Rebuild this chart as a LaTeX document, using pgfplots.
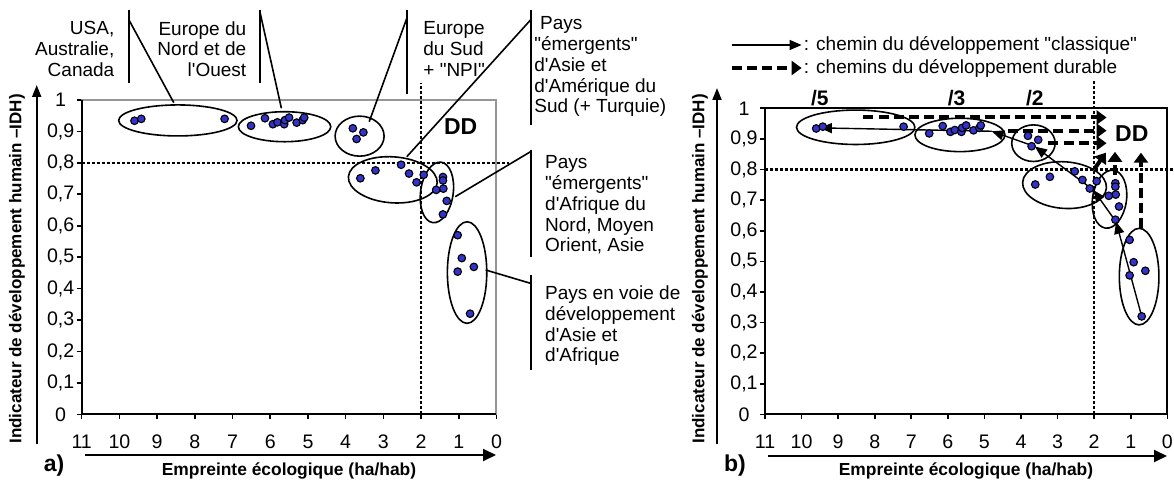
\documentclass[border=0pt]{standalone}
\usepackage{fontspec}
\setmainfont{Liberation Sans}[Ligatures=TeXOff]
\usepackage{pgfplots}
\usepackage{pgfplotstable}
\pgfplotsset{compat=1.18}
\usetikzlibrary{arrows.meta}
\definecolor{ptblue}{RGB}{51,51,204}
\definecolor{framegray}{RGB}{150,150,150}

\pgfplotstableread{
x y
9.60 0.934
9.42 0.940
7.21 0.940
6.51 0.918
6.14 0.942
5.93 0.923
5.81 0.929
5.63 0.923
5.61 0.936
5.50 0.944
5.30 0.928
5.14 0.936
5.10 0.944
3.81 0.910
3.53 0.897
3.71 0.876
3.61 0.751
3.21 0.776
2.53 0.794
2.32 0.766
2.12 0.738
1.93 0.762
1.42 0.755
1.42 0.744
1.41 0.718
1.60 0.714
1.32 0.679
1.42 0.636
1.03 0.570
0.92 0.497
0.60 0.469
1.03 0.454
0.70 0.320
}\pts

\pgfplotsset{
 panel/.style={scale only axis, xmin=0, xmax=11, ymin=0, ymax=1, x dir=reverse, clip=false,
   xtick={0,1,2,3,4,5,6,7,8,9,10,11},
   ytick={0,0.1,0.2,0.3,0.4,0.5,0.6,0.7,0.8,0.9,1},
   xtick pos=left, ytick pos=left,
   tick align=outside, major tick length=2.5pt,
   every tick/.style={black, line width=0.8pt},
   /pgf/number format/use comma,
   /pgf/number format/fixed,
   /pgf/number format/precision=1,
   /pgf/number format/assume math mode=true,
   ticklabel style={font=\fontsize{9.8}{11}\selectfont},
   xticklabel style={yshift=-4.2pt},
   yticklabel style={anchor=center, xshift=-8pt},
 },
 pts/.style={only marks, mark=*, mark size=1.9pt, mark options={fill=ptblue, draw=black, line width=0.55pt}},
 dotline/.style={no marks, black, line width=1.1pt, dash pattern=on 1.5pt off 1pt},
 solidarrow/.style={no marks, black, line width=0.7pt, -{Triangle[length=6pt,width=5pt]}},
 dasharrow/.style={no marks, black, line width=2pt, dash pattern=on 5pt off 2.6pt, -{Triangle[length=5pt,width=7pt]}},
}

\begin{document}
\begin{tikzpicture}
\path[use as bounding box] (0,0) rectangle (587pt,-240.5pt);

% ---------------- panel a ----------------
\begin{axis}[panel, at={(40.85pt,-207.15pt)}, anchor=south west,
  width=207.4pt, height=157.15pt,
  axis line style={draw=framegray, line width=1pt}]
\addplot[dotline] coordinates {(11,0.8) (-0.33,0.8)};
\addplot[dotline] coordinates {(2,0) (2,1.053)};
\draw[black, line width=1pt] (axis cs:11,1) -- (axis cs:11,0) -- (axis cs:0,0);
\draw[line width=0.8pt] (axis cs:8.45,0.935) ellipse [x radius=29.6pt, y radius=7.75pt];
\draw[line width=0.8pt] (axis cs:5.62,0.915) ellipse [x radius=23.1pt, y radius=7.5pt];
\draw[line width=0.8pt] (axis cs:3.63,0.885) ellipse [x radius=12.25pt, y radius=10pt];
\draw[line width=0.8pt, rotate around={-4:(axis cs:2.75,0.746)}] (axis cs:2.75,0.746) ellipse [x radius=22.25pt, y radius=11.5pt];
\draw[line width=0.8pt, rotate around={-8:(axis cs:1.58,0.706)}] (axis cs:1.58,0.706) ellipse [x radius=8.15pt, y radius=15.25pt];
\draw[line width=0.8pt] (axis cs:0.78,0.451) ellipse [x radius=9.85pt, y radius=25.4pt];
\addplot[pts] table {\pts};
\node[font=\bfseries\fontsize{11.5}{12}\selectfont] at (axis cs:0.95,0.915) {DD};
\end{axis}

% ---------------- panel b ----------------
\begin{axis}[panel, at={(382.5pt,-207.15pt)}, anchor=south west,
  width=201.15pt, height=153pt,
  axis line style={draw=black, line width=1pt}]
\addplot[dotline] coordinates {(11,0.8) (-0.17,0.8)};
\addplot[dotline] coordinates {(2,0) (2,1.09)};
\draw[line width=0.8pt] (axis cs:8.52,0.938) ellipse [x radius=29.6pt, y radius=8.6pt];
\draw[line width=0.8pt] (axis cs:5.67,0.913) ellipse [x radius=22.5pt, y radius=8.35pt];
\draw[line width=0.8pt] (axis cs:3.66,0.886) ellipse [x radius=10.85pt, y radius=9.15pt];
\draw[line width=0.8pt, rotate around={-4:(axis cs:2.81,0.749)}] (axis cs:2.81,0.749) ellipse [x radius=21pt, y radius=11.65pt];
\draw[line width=0.8pt, rotate around={-8:(axis cs:1.58,0.703)}] (axis cs:1.58,0.703) ellipse [x radius=8.5pt, y radius=14.6pt];
\draw[line width=0.8pt] (axis cs:0.77,0.45) ellipse [x radius=9.9pt, y radius=24.15pt];
\addplot[pts] table {\pts};
% classical path
\addplot[solidarrow] coordinates {(0.70,0.320) (1.40,0.629)};
\addplot[solidarrow] coordinates {(1.40,0.629) (2.02,0.733)};
\addplot[solidarrow] coordinates {(2.02,0.733) (3.62,0.875)};
\addplot[solidarrow] coordinates {(3.62,0.875) (4.80,0.925)};
\addplot[solidarrow] coordinates {(4.80,0.925) (9.50,0.936)};
% sustainable paths
\addplot[dasharrow] coordinates {(8.31,0.970) (1.66,0.970)};
\addplot[dasharrow] coordinates {(4.36,0.927) (1.66,0.927)};
\addplot[dasharrow] coordinates {(3.25,0.886) (1.66,0.886)};
\addplot[dasharrow] coordinates {(1.98,0.804) (1.68,0.855)};
\addplot[dasharrow] coordinates {(1.43,0.733) (1.43,0.858)};
\addplot[dasharrow] coordinates {(0.72,0.608) (0.72,0.855)};
\node[font=\bfseries\fontsize{11.5}{12}\selectfont] at (axis cs:0.97,0.918) {DD};
\node[font=\bfseries\fontsize{10.5}{12}\selectfont] at (axis cs:9.50,1.033) {/5};
\node[font=\bfseries\fontsize{10.5}{12}\selectfont] at (axis cs:5.76,1.033) {/3};
\node[font=\bfseries\fontsize{10.5}{12}\selectfont] at (axis cs:3.62,1.033) {/2};
\end{axis}

% ---------------- annotations in pixel units ----------------
\begin{scope}[x=0.5pt,y=-0.5pt, every node/.style={inner sep=0pt}]
\tikzset{ann/.style={font=\fontsize{9.5}{10.4}\selectfont}}
% axis arrows
\draw[line width=0.9pt, -{Triangle[length=6pt,width=4.5pt]}] (36.7,444) -- (36.7,85);
\draw[line width=0.9pt, -{Triangle[length=6pt,width=4.5pt]}] (717,444) -- (717,88);
\draw[line width=0.9pt, -{Triangle[length=6.5pt,width=6pt]}] (85,455) -- (496,455);
\draw[line width=0.9pt, -{Triangle[length=6.5pt,width=6pt]}] (768,456) -- (1167,456);
% axis titles
\node[rotate=90, anchor=west, font=\bfseries\fontsize{8.5}{10}\selectfont] at (17,444) {Indicateur de développement humain –IDH)};
\node[rotate=90, anchor=west, font=\bfseries\fontsize{8.5}{10}\selectfont] at (700,444) {Indicateur de développement humain –IDH)};
\node[font=\bfseries\fontsize{8.7}{10}\selectfont] at (289,471) {Empreinte écologique (ha/hab)};
\node[font=\bfseries\fontsize{8.7}{10}\selectfont] at (966,471) {Empreinte écologique (ha/hab)};
\node[font=\bfseries\fontsize{11.5}{12}\selectfont] at (54,466) {a)};
\node[font=\bfseries\fontsize{11.5}{12}\selectfont] at (735,466) {b)};
% callout bars
\draw[line width=1pt] (129,10) -- (129,82.7);
\draw[line width=1pt] (259.9,10) -- (259.9,82.7);
\draw[line width=1pt] (406.8,10) -- (406.8,94.3);
\draw[line width=1pt] (530.5,10) -- (530.5,125);
\draw[line width=1pt] (530.5,150) -- (530.5,256.7);
\draw[line width=1pt] (530.5,275) -- (530.5,370);
% callout lines
\draw[line width=0.8pt] (129,20) -- (173.8,102.7);
\draw[line width=0.8pt] (259.9,11.7) -- (281.4,108.3);
\draw[line width=0.8pt] (406.8,18.3) -- (369.2,121.7);
\draw[line width=0.8pt] (530.5,20) -- (406.8,156.7);
\draw[line width=0.8pt] (530.5,151.7) -- (455.2,196.7);
\draw[line width=0.8pt] (530.5,283.3) -- (485.7,270);
% labels
\node[ann, anchor=east, align=right] at (114.7,49.2) {USA,\\Australie,\\Canada};
\node[ann, anchor=east, align=right] at (246.6,49.2) {Europe du\\Nord et de\\l'Ouest};
\node[ann, anchor=west, align=left] at (423,49.2) {Europe\\du Sud\\+ "NPI"};
\node[ann, anchor=west, align=left] at (534,66.7) {\hspace{0.3em}Pays\\"émergents"\\d'Asie et\\d'Amérique du\\Sud (+ Turquie)};
\node[ann, anchor=west, align=left] at (544.8,205) {Pays\\"émergents"\\d'Afrique du\\Nord, Moyen\\Orient, Asie};
\node[ann, anchor=west, align=left] at (544.8,325.8) {Pays en voie de\\développement\\d'Asie et\\d'Afrique};
% legend of panel b
\draw[line width=0.7pt, -{Triangle[length=6pt,width=5pt]}] (731.5,45) -- (801.6,45);
\node[ann, anchor=west] at (803.5,45) {: chemin du développement "classique"};
\draw[line width=2pt, dash pattern=on 5pt off 2.6pt, -{Triangle[length=5pt,width=7pt]}] (731.5,68) -- (801.6,68);
\node[ann, anchor=west] at (803.5,68) {: chemins du développement durable};
\end{scope}
\end{tikzpicture}
\end{document}
